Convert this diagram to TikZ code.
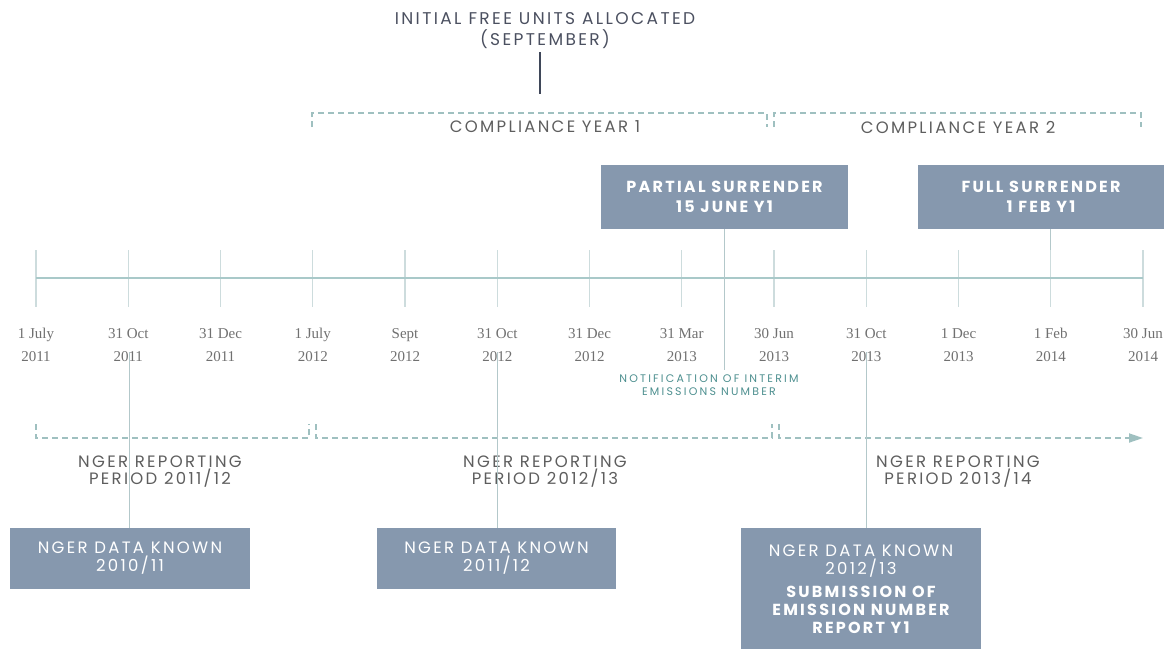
\documentclass[tikz,border=0pt]{standalone}
\usepackage{fontspec}
\setmainfont{Liberation Serif}
\newfontfamily\gotham[LetterSpace=14]{Poppins}
\newfontfamily\gothamw[LetterSpace=20]{Poppins}
\usetikzlibrary{positioning,arrows.meta}
\definecolor{slate}{HTML}{8698AE}
\definecolor{ink}{HTML}{4B5060}
\definecolor{barc}{HTML}{3F4759}
\definecolor{dashc}{HTML}{9FC0C0}
\definecolor{axisc}{HTML}{A9C9C9}
\definecolor{tickc}{HTML}{CDDCDD}
\definecolor{connc}{HTML}{B3C8CA}
\definecolor{tealtxt}{HTML}{4D8F8F}
\definecolor{graytxt}{HTML}{5E5E5E}
\definecolor{datetxt}{HTML}{707070}

\tikzset{
  box/.style={fill=slate, text=white, align=center, inner sep=0pt},
  lbl/.style={text=graytxt, align=center, inner sep=0pt, font=\gotham\fontsize{16.5}{17}\selectfont},
  date/.style={text=datetxt, align=center, inner sep=0pt, font=\fontsize{15}{23}\selectfont},
  bracket/.style={draw=dashc, line width=1.8pt, dash pattern=on 6pt off 4pt},
  conn/.style={draw=connc, line width=1pt},
  tick/.style={draw=tickc, line width=1.2pt},
}

\begin{document}
\begin{tikzpicture}[x=1pt,y=-1pt]
  \useasboundingbox (0,0) rectangle (1164,648);

  % allocation
  \node[text=ink, align=center, inner sep=0pt, font=\gotham\fontsize{17}{21}\selectfont] (alloc) at (545,31) {INITIAL FREE UNITS ALLOCATED\\(SEPTEMBER)};
  \coordinate (bartop) at (540,52);
  \coordinate (barbot) at (540,94);
  \draw[draw=barc, line width=2.6pt] (bartop) -- (barbot);

  % compliance years
  \draw[bracket] (312,127) -- (312,113) -- (767,113) -- (767,127);
  \draw[bracket] (774,127) -- (774,113) -- (1141,113) -- (1141,127);
  \node[lbl] (cy1) at (545,127) {COMPLIANCE YEAR 1};
  \node[lbl] (cy2) at (958,127) {COMPLIANCE YEAR 2};

  % surrender boxes
  \node[box, minimum width=247, minimum height=64, font=\gotham\bfseries\fontsize{16}{20}\selectfont] (psurr) at (724.5,197) {PARTIAL SURRENDER\\15 JUNE Y1};
  \node[box, minimum width=246, minimum height=64, font=\gotham\bfseries\fontsize{16}{20}\selectfont] (fsurr) at (1041,197) {FULL SURRENDER\\1 FEB Y1};

  % timeline
  \coordinate (tl0) at (36,278);
  \coordinate (tl1) at (1143,278);
  \foreach \x in {36,128.25,220.5,312.75,405,497.25,589.5,681.75,774,866.25,958.5,1050.75,1143}
    \draw[tick] (\x,250) -- (\x,307);
  \draw[draw=axisc, line width=2.4pt] (tl0) -- (tl1);

  % dates
  \node[date] (d1) at (36,345) {1 July\\2011};
  \node[date] (d2) at (128.25,345) {31 Oct\\2011};
  \node[date] (d3) at (220.5,345) {31 Dec\\2011};
  \node[date] (d4) at (312.75,345) {1 July\\2012};
  \node[date] (d5) at (405,345) {Sept\\2012};
  \node[date] (d6) at (497.25,345) {31 Oct\\2012};
  \node[date] (d7) at (589.5,345) {31 Dec\\2012};
  \node[date] (d8) at (681.75,345) {31 Mar\\2013};
  \node[date] (d9) at (774,345) {30 Jun\\2013};
  \node[date] (d10) at (866.25,345) {31 Oct\\2013};
  \node[date] (d11) at (958.5,345) {1 Dec\\2013};
  \node[date] (d12) at (1050.75,345) {1 Feb\\2014};
  \node[date] (d13) at (1143,345) {30 Jun\\2014};

  % interim notification
  \coordinate (nt) at (724.5,370);
  \draw[conn] (psurr) -- (nt);
  \node[text=tealtxt, align=center, inner sep=0pt, font=\gothamw\fontsize{11}{13}\selectfont] (notif) at (709,385) {NOTIFICATION OF INTERIM\\EMISSIONS NUMBER};
  \coordinate (ft) at (1050.75,250);
  \draw[conn] (fsurr.south -| ft) -- (ft);

  % reporting periods
  \draw[bracket] (36,424) -- (36,438) -- (309,438) -- (309,424);
  \draw[bracket] (316,424) -- (316,438) -- (772,438) -- (772,424);
  \draw[bracket, -{Triangle[length=14pt,width=9pt]}] (779,424) -- (779,438) -- (1143,438);
  \node[lbl] (rp1) at (160,472) {NGER REPORTING\\PERIOD 2011/12};
  \node[lbl] (rp2) at (545,472) {NGER REPORTING\\PERIOD 2012/13};
  \node[lbl] (rp3) at (958,472) {NGER REPORTING\\PERIOD 2013/14};

  % data known boxes
  \node[box, minimum width=240, minimum height=61, font=\gotham\fontsize{16.5}{18}\selectfont] (known1) at (130,558.5) {NGER DATA KNOWN\\2010/11};
  \node[box, minimum width=239, minimum height=61, font=\gotham\fontsize{16.5}{18}\selectfont] (known2) at (496.5,558.5) {NGER DATA KNOWN\\2011/12};
  \node[box, minimum width=240, minimum height=122, font=\gotham\fontsize{16.5}{18}\selectfont] (known3) at (861,589) {NGER DATA KNOWN\\2012/13\\[5pt]{\bfseries\fontsize{16}{18}\selectfont SUBMISSION OF}\\{\bfseries\fontsize{16}{18}\selectfont EMISSION NUMBER}\\{\bfseries\fontsize{16}{18}\selectfont REPORT Y1}};
  \coordinate (k1) at (129,352);
  \coordinate (k2) at (497.25,352);
  \coordinate (k3) at (866.25,352);
  \draw[conn] (k1) -- (k1 |- known1.north);
  \draw[conn] (k2) -- (k2 |- known2.north);
  \draw[conn] (k3) -- (k3 |- known3.north);
\end{tikzpicture}
\end{document}
